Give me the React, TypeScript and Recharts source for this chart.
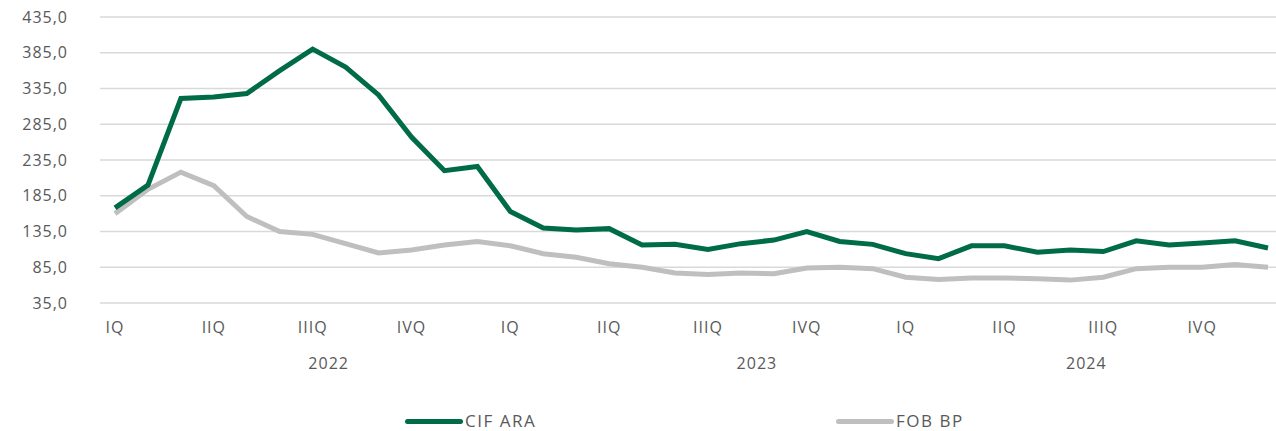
import { LineChart, Line, XAxis, YAxis, CartesianGrid, Legend } from "recharts"

const months = Array.from({ length: 36 }, (_, i) => i)
const quarterLabels = ["IQ", "IIQ", "IIIQ", "IVQ"]
const yearLabels = ["2022", "2023", "2024"]
const yearTickIdx = [6, 19, 29]
const yTicks = [35, 85, 135, 185, 235, 285, 335, 385, 435]

const cifAra = [
  168, 200, 321, 323, 328, 360, 390, 365, 326, 267, 220, 226,
  163, 140, 137, 139, 116, 117, 110, 118, 123, 135, 121, 117,
  104, 97, 115, 115, 106, 109, 107, 122, 116, 119, 122, 112,
]
const fobBp = [
  160, 194, 218, 199, 156, 135, 131, 118, 105, 109, 116, 121,
  115, 104, 99, 90, 85, 77, 75, 77, 76, 84, 85, 83,
  71, 68, 70, 70, 69, 67, 71, 83, 85, 85, 89, 85,
]

const data = months.map((m, i) => ({ m, cif: cifAra[i], fob: fobBp[i] }))

const FONT = "'Open Sans', sans-serif"
const TXT = "#595959"
const GREEN = "#006B47"
const GRAY = "#BFBFBF"

const tickStyle = { fill: TXT, fontFamily: FONT, fontSize: 16, letterSpacing: 1 }

const fmt = (v: number) => v.toFixed(1).replace(".", ",")

// legend items sit at fixed offsets inside the legend box (box starts at plot left)
const legendItems = [
  { label: "CIF ARA", color: GREEN, left: 305 },
  { label: "FOB BP", color: GRAY, left: 736 },
]

function LegendBox() {
  return (
    <div style={{ position: "relative", height: 20, fontFamily: FONT, fontSize: 17, letterSpacing: 1.5, color: TXT, lineHeight: "20px" }}>
      {legendItems.map((it) => (
        <div key={it.label} style={{ position: "absolute", left: it.left, top: 0, display: "flex", alignItems: "center", height: 20 }}>
          <span style={{ display: "inline-block", width: 58, height: 5, borderRadius: 3, background: it.color, marginRight: 2 }} />
          <span>{it.label}</span>
        </div>
      ))}
    </div>
  )
}

export default function App() {
  return (
    <div style={{ position: "absolute", left: 0, top: 0, width: 1276, height: 431, overflow: "hidden", background: "#fff" }}>
      <LineChart width={1276} height={431} data={data} margin={{ top: 17, right: 0, bottom: 0, left: 0 }}>
        <CartesianGrid vertical={false} stroke="#d9d9d9" strokeWidth={1.5} />
        <XAxis
          dataKey="m"
          type="category"
          padding={{ left: 15, right: 8 }}
          ticks={[0, 3, 6, 9, 12, 15, 18, 21, 24, 27, 30, 33]}
          interval={0}
          tickFormatter={(v: number) => quarterLabels[(v / 3) % 4]}
          axisLine={false}
          tickLine={false}
          tickSize={0}
          tickMargin={19}
          height={35}
          tick={tickStyle}
        />
        <XAxis
          xAxisId="yr"
          dataKey="m"
          type="category"
          padding={{ left: 15, right: 8 }}
          ticks={yearTickIdx}
          interval={0}
          tickFormatter={(v: number) => yearLabels[yearTickIdx.indexOf(v)]}
          axisLine={false}
          tickLine={false}
          tickSize={0}
          tickMargin={20}
          height={73}
          dx={16}
          tick={tickStyle}
        />
        <YAxis
          domain={[35, 435]}
          ticks={yTicks}
          interval={0}
          tickFormatter={fmt}
          axisLine={false}
          tickLine={false}
          tickSize={0}
          tickMargin={32}
          width={100}
          tick={tickStyle}
        />
        <Legend
          verticalAlign="bottom"
          wrapperStyle={{ position: "absolute", top: 411, left: 100, width: 1176, height: 20 }}
          content={() => <LegendBox />}
        />
        <Line dataKey="fob" name="FOB BP" stroke={GRAY} strokeWidth={5} dot={false} isAnimationActive={false} />
        <Line dataKey="cif" name="CIF ARA" stroke={GREEN} strokeWidth={5} dot={false} isAnimationActive={false} />
      </LineChart>
    </div>
  )
}
